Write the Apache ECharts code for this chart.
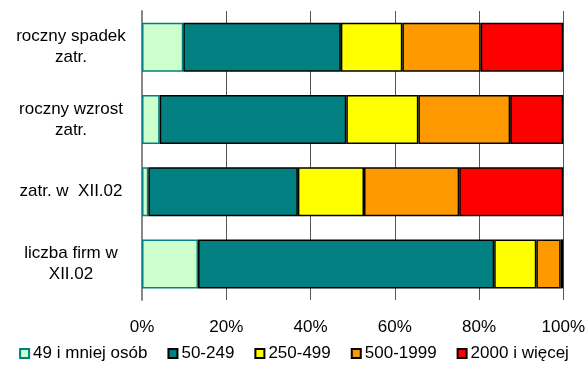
<!DOCTYPE html>
<html>
<head>
<meta charset="utf-8">
<script src="https://cdn.jsdelivr.net/npm/echarts@6/dist/echarts.min.js"></script>
<style>
  html, body { margin: 0; padding: 0; background: #fff; }
  #chart { width: 588px; height: 369px; }
</style>
</head>
<body>
<div id="chart"></div>
<script>
// Categories, top to bottom
const categories = ['roczny spadek\nzatr.', 'roczny wzrost\nzatr.', 'zatr. w  XII.02', 'liczba firm w\nXII.02'];

// Share (%) of each firm-size group per category
const size49 = [9.8, 4.2, 1.5, 13.3];
const size50_249 = [37.4, 44.3, 35.5, 70.3];
const size250_499 = [14.6, 17.1, 15.7, 10.0];
const size500_1999 = [18.6, 21.8, 22.6, 5.8];
const size2000 = [19.6, 12.6, 24.7, 0.6];

const seriesNames = ['49 i mniej osób', '50-249', '250-499', '500-1999', '2000 i więcej'];
const seriesData = [size49, size50_249, size250_499, size500_1999, size2000];
const seriesColors = ['#CCFFCC', '#008080', '#FFFF00', '#FF9900', '#FF0000'];
const seriesBorders = ['#008080', '#000000', '#000000', '#000000', '#000000'];

const tickValues = [0, 20, 40, 60, 80, 100];

const font = 'Liberation Sans, Arial, sans-serif';

const chart = echarts.init(document.getElementById('chart'), null, { renderer: 'canvas' });

chart.setOption({
  animation: false,
  backgroundColor: '#ffffff',
  grid: { left: 142, right: 22, top: 11, bottom: 69, containLabel: false },
  xAxis: {
    type: 'value',
    min: tickValues[0],
    max: tickValues[tickValues.length - 1],
    interval: 20,
    axisLine: { show: false },
    axisTick: { show: false },
    axisLabel: {
      formatter: '{value}%',
      color: '#000',
      fontFamily: font,
      fontSize: 17,
      margin: 19
    },
    splitLine: { show: true, lineStyle: { color: '#555555', width: 1 } }
  },
  yAxis: {
    type: 'category',
    data: categories,
    inverse: true,
    axisLine: { show: true, lineStyle: { color: '#888888', width: 2 } },
    axisTick: { show: false },
    axisLabel: {
      color: '#000',
      fontFamily: font,
      fontSize: 17,
      lineHeight: 21,
      align: 'center',
      margin: 71
    },
    splitLine: { show: false }
  },
  legend: {
    top: 345,
    left: 'center',
    padding: [0, 5, 0, 5],
    itemWidth: 9,
    itemHeight: 9,
    itemGap: 20,
    icon: 'rect',
    textStyle: { color: '#000', fontFamily: font, fontSize: 17, padding: [0, 0, 0, -1] },
    data: seriesNames
  },
  series: seriesNames.map((name, i) => ({
    name: name,
    type: 'bar',
    stack: 'total',
    barWidth: 49,
    data: seriesData[i],
    itemStyle: {
      color: seriesColors[i],
      borderColor: seriesBorders[i],
      borderWidth: 1.5
    }
  }))
});
</script>
</body>
</html>
